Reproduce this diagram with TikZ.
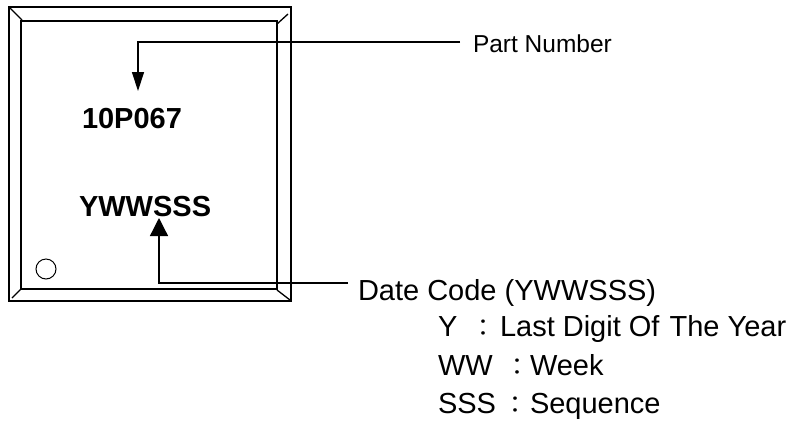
\documentclass[tikz,border=0pt]{standalone}
\usepackage{fontspec}
\setmainfont{Liberation Sans}
\newfontfamily\cjk{Noto Sans CJK TC}
\newcommand{\fwcolon}{{\cjk\fontsize{24}{24}\selectfont ：}}
\usetikzlibrary{arrows.meta}
\tikzset{
  x=1pt,y=-1pt,
  ln/.style={line width=1.3pt,black},
  lbl/.style={anchor=base west,inner sep=0pt,outer sep=0pt,font=\fontsize{29}{30}\selectfont},
  boldlbl/.style={lbl,font=\fontsize{29}{30}\selectfont\bfseries},
  small/.style={lbl,font=\fontsize{24.5}{26}\selectfont},
}
\begin{document}
\begin{tikzpicture}
\useasboundingbox (0,0) rectangle (794,424);
\draw[ln] (9,7) rectangle (291,301);
\draw[ln] (21,21) rectangle (277,289);
\draw[ln] (9,7) -- (22,20);
\draw[ln] (288,14) -- (277,24);
\draw[ln] (12,298) -- (21,289);
\draw[ln] (277,290) -- (290,300);
\draw[line width=1pt] (46,269) circle (10);
\node[boldlbl] (pn) at (82,128) {10P067};
\node[boldlbl] (dc) at (79,216) {YWWSSS};
\node[small] (part) at (473,52) {Part Number};
\node[lbl] (date) at (358,300) {Date Code (YWWSSS)};
\node[lbl] (y) at (438,336) {\makebox[62pt][l]{Y\hspace{13.7pt}\fwcolon}Last Digit Of\hspace{10pt}The Year};
\node[lbl] (w) at (438,375) {\makebox[92pt][l]{WW\hspace{13.2pt}\fwcolon}Week};
\node[lbl] (s) at (438,413) {\makebox[92pt][l]{SSS\hspace{7pt}\fwcolon}Sequence};
\coordinate (a1) at (460,42);
\coordinate (a2) at (138,91);
\coordinate (b1) at (348,283);
\coordinate (b2) at (159,218);
\draw[ln,-{Triangle[length=19pt,width=12pt]}] (a1) -| (a2);
\draw[ln,-{Triangle[length=18pt,width=18pt]}] (b1) -| (b2);
\end{tikzpicture}
\end{document}
